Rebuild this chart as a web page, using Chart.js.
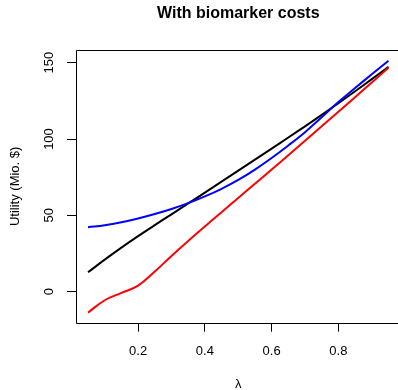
<!DOCTYPE html>
<html>
<head>
<meta charset="utf-8">
<script src="https://cdn.jsdelivr.net/npm/chart.js@4/dist/chart.umd.min.js"></script>
<style>
	html, body { margin: 0; padding: 0; background: #fff; overflow: hidden; }
	#wrap { width: 398px; height: 390px; overflow: hidden; }
	#wrap div { width: 410px; height: 390px; }
</style>
</head>
<body>
<div id="wrap"><div><canvas id="chart" width="410" height="390"></canvas></div></div>
<script>
// lambda grid
const lambdas = [0.05, 0.10, 0.15, 0.20, 0.25, 0.30, 0.35, 0.40, 0.45, 0.50,
	0.55, 0.60, 0.65, 0.70, 0.75, 0.80, 0.85, 0.90, 0.95];

// utility (Mio. $)
const blackSeries = [12.7, 21.0, 28.9, 36.4, 43.6, 50.7, 57.8, 64.9, 72.1, 79.3,
	86.5, 93.7, 101.0, 108.3, 115.8, 123.5, 131.3, 139.2, 147.3];
const redSeries = [-13.7, -5.6, -0.8, 4.0, 13.2, 23.4, 33.2, 42.7, 52.1, 61.4,
	70.7, 80.0, 89.4, 98.8, 108.3, 117.8, 127.4, 137.0, 146.7];
const blueSeries = [42.2, 43.5, 45.5, 48.0, 50.9, 54.2, 58.0, 62.4, 67.4, 73.2,
	80.0, 87.6, 95.8, 104.5, 114.2, 124.2, 133.4, 142.4, 151.3];

const xTicks = [0.2, 0.4, 0.6, 0.8];
const yTicks = [0, 50, 100, 150];

const font = 'Liberation Sans, Arial, Helvetica, sans-serif';

function toPoints( ys ) {
	return lambdas.map( ( x, i ) => ( { x: x, y: ys[ i ] } ) );
}

function line( data, color, order ) {
	return {
		data: toPoints( data ),
		borderColor: color,
		borderWidth: 2,
		pointRadius: 0,
		fill: false,
		tension: 0.4,
		order: order,
	};
}

// R style box: the right side falls outside the picture
const boxPlugin = {
	id: 'box',
	afterDraw( chart ) {
		const a = chart.chartArea;
		const ctx = chart.ctx;
		const l = Math.round( a.left ) + 0.5;
		const t = Math.round( a.top ) + 0.5;
		const b = Math.round( a.bottom ) + 0.5;
		ctx.save();
		ctx.strokeStyle = '#000';
		ctx.lineWidth = 1;
		ctx.beginPath();
		ctx.moveTo( chart.width, t );
		ctx.lineTo( l, t );
		ctx.lineTo( l, b );
		ctx.lineTo( chart.width, b );
		ctx.stroke();
		ctx.restore();
	},
};

new Chart( document.getElementById( 'chart' ), {
	type: 'line',
	data: {
		datasets: [
			line( blueSeries, '#0000ff', 0 ),
			line( redSeries, '#ff0000', 1 ),
			line( blackSeries, '#000000', 2 ),
		],
	},
	options: {
		responsive: false,
		animation: false,
		layout: { padding: { left: 0, right: 9.5, top: 0, bottom: 0 } },
		plugins: {
			legend: { display: false },
			tooltip: { enabled: false },
			title: {
				display: true,
				fullSize: false,
				text: 'With biomarker costs',
				color: '#000',
				font: { family: font, size: 16, weight: 'bold', lineHeight: 1.2 },
				padding: { top: 4, bottom: 26.8 },
			},
		},
		scales: {
			x: {
				type: 'linear',
				min: 0.014,
				max: 0.986,
				afterBuildTicks: ( s ) => { s.ticks = xTicks.map( ( v ) => ( { value: v } ) ); },
				afterFit: ( s ) => { s.height = 67.3; },
				grid: { drawOnChartArea: false, drawTicks: true, tickLength: 9, tickColor: '#000' },
				border: { display: false },
				ticks: {
					color: '#000',
					font: { family: font, size: 13 },
					padding: 12,
					maxRotation: 0,
					autoSkip: false,
				},
				title: {
					display: true,
					text: 'λ',
					color: '#000',
					font: { family: font, size: 13, lineHeight: 0.8 },
					padding: { top: 0, bottom: 0 },
				},
			},
			y: {
				type: 'linear',
				min: -20.3,
				max: 158.3,
				afterBuildTicks: ( s ) => { s.ticks = yTicks.map( ( v ) => ( { value: v } ) ); },
				afterFit: ( s ) => { s.width = 76; },
				grid: { drawOnChartArea: false, drawTicks: true, tickLength: 9, tickColor: '#000' },
				border: { display: false },
				ticks: {
					color: '#000',
					font: { family: font, size: 13 },
					minRotation: 90,
					maxRotation: 90,
					crossAlign: 'center',
					padding: 7,
					autoSkip: false,
				},
				title: {
					display: true,
					text: 'Utility (Mio. $)',
					color: '#000',
					font: { family: font, size: 13, lineHeight: 1.2 },
					padding: { top: 8, bottom: 0 },
				},
			},
		},
	},
	plugins: [ boxPlugin ],
} );
</script>
</body>
</html>
